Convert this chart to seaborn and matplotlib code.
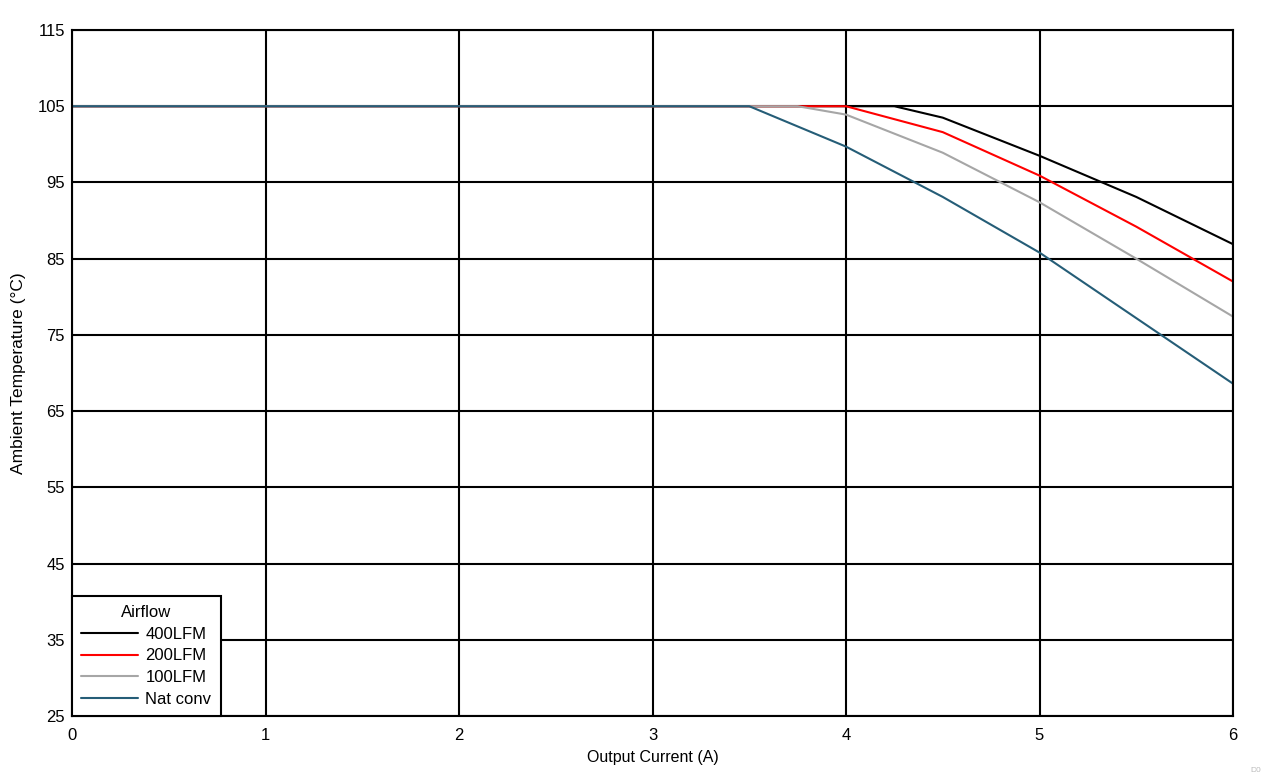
import pandas as pd
import matplotlib
matplotlib.use("Agg")
import matplotlib.pyplot as plt
import seaborn as sns

# ---------- DATA ----------
SERIES = ["400LFM", "200LFM", "100LFM", "Nat conv"]
COLORS = ["#000000", "#FF0000", "#A6A6A6", "#255D77"]

I_400 = [0, 4.25, 4.5, 5.0, 5.5, 6.0]
T_400 = [105, 105, 103.5, 98.5, 93.1, 86.9]

I_200 = [0, 4.0, 4.5, 5.0, 5.5, 6.0]
T_200 = [105, 105, 101.6, 95.9, 89.2, 82.0]

I_100 = [0, 3.75, 4.0, 4.5, 5.0, 5.5, 6.0]
T_100 = [105, 105, 103.9, 98.9, 92.4, 85.0, 77.4]

I_NAT = [0, 3.5, 4.0, 4.5, 5.0, 5.5, 6.0]
T_NAT = [105, 105, 99.7, 93.1, 85.8, 77.2, 68.6]

X_TICKS = [0, 1, 2, 3, 4, 5, 6]
Y_TICKS = [25, 35, 45, 55, 65, 75, 85, 95, 105, 115]


def build_frame():
    parts = []
    for name, xs, ys in zip(SERIES, [I_400, I_200, I_100, I_NAT], [T_400, T_200, T_100, T_NAT]):
        parts.append(pd.DataFrame({"current": xs, "temp": ys, "Airflow": name}))
    return pd.concat(parts, ignore_index=True)


def main():
    sns.set_theme(style="white")
    plt.rcParams["font.family"] = ["Liberation Sans", "DejaVu Sans"]
    plt.rcParams["text.color"] = "black"
    plt.rcParams["axes.labelcolor"] = "black"

    df = build_frame()

    fig = plt.figure(figsize=(12.62, 7.76), dpi=100)
    ax = fig.add_axes([72 / 1262, 1 - 716 / 776, (1233 - 72) / 1262, (716 - 30) / 776])

    # grid first so the curves sit on top
    ax.set_axisbelow(True)
    ax.grid(True, color="black", linewidth=1.5)

    sns.lineplot(data=df, x="current", y="temp", hue="Airflow", hue_order=SERIES,
                 palette=COLORS, linewidth=1.5, ax=ax, sort=False, estimator=None)

    ax.set_xlim(0, 6)
    ax.set_ylim(25, 115)
    ax.set_xticks(X_TICKS)
    ax.set_yticks(Y_TICKS)
    ax.tick_params(axis="y", length=0, labelsize=12, colors="black", pad=5)
    ax.tick_params(axis="x", length=0, labelsize=12, colors="black", pad=9)
    for s in ax.spines.values():
        s.set_color("black")
        s.set_linewidth(1.5)

    ax.set_xlabel("Output Current (A)", fontsize=11.5, color="black", labelpad=5)
    ax.set_ylabel("Ambient Temperature (°C)", fontsize=12.5, color="black", labelpad=8)

    leg = ax.legend(title="Airflow", loc="lower left", fontsize=12, title_fontsize=12,
                    frameon=True, fancybox=False, borderaxespad=0,
                    handlelength=3.4, handletextpad=0.45, labelspacing=0.4,
                    borderpad=0.55)
    leg.get_frame().set_edgecolor("black")
    leg.get_frame().set_linewidth(1.5)
    leg.get_frame().set_alpha(1)
    leg.get_title().set_color("black")
    for t in leg.get_texts():
        t.set_color("black")

    fig.text(1256 / 1262, 1 - 770 / 776, "D0", fontsize=6, color="#BBBBBB",
             ha="center", va="center")

    fig.savefig("out.png", dpi=100)
    plt.close(fig)


if __name__ == "__main__":
    main()
